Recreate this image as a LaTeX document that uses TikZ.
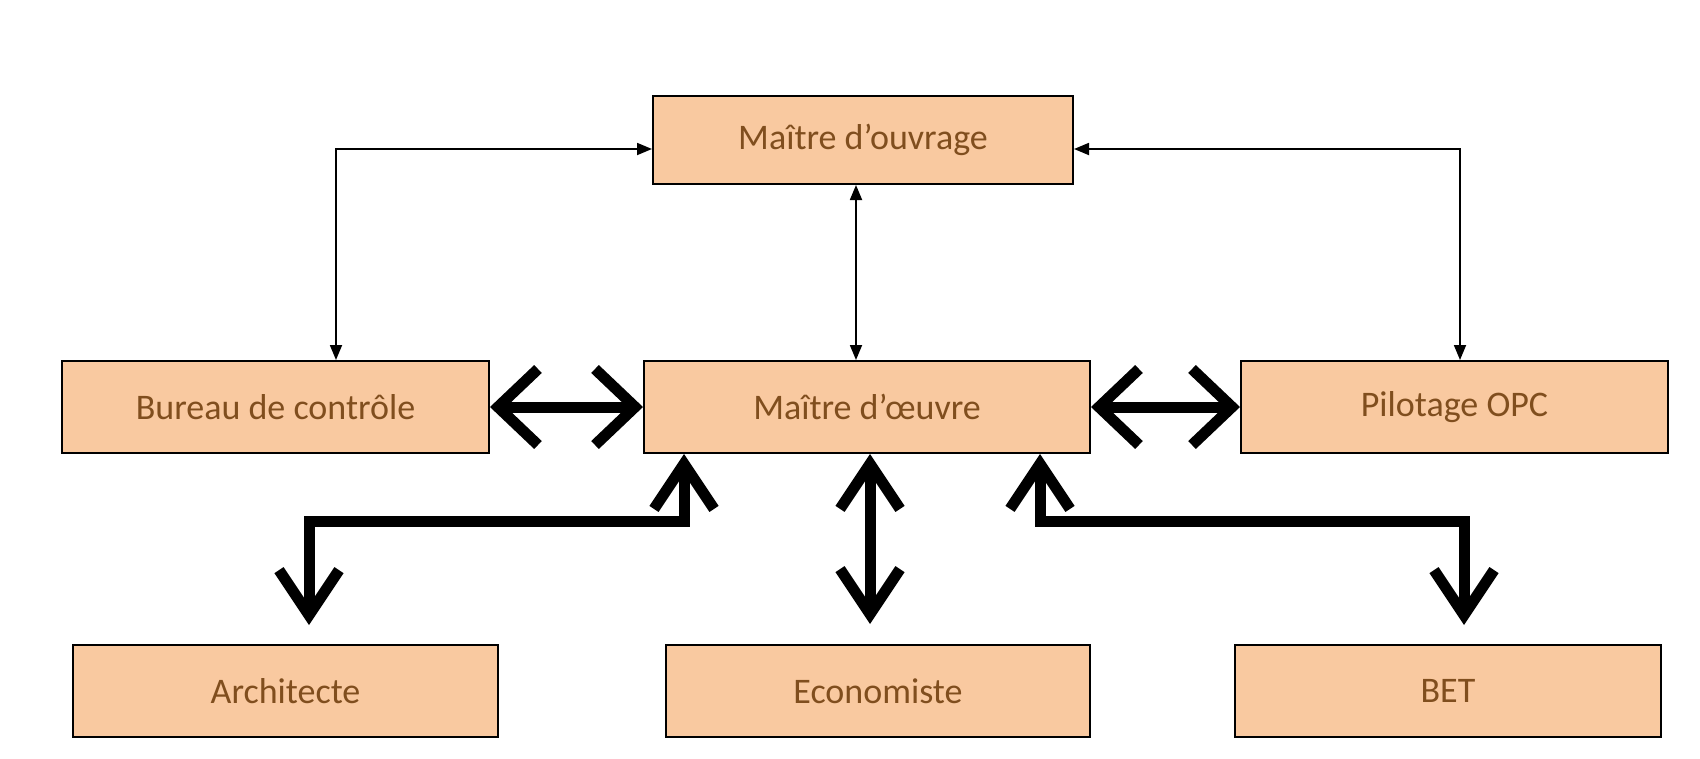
\documentclass[tikz,border=0pt]{standalone}
\usepackage{fontspec}
\setmainfont{Carlito}
\usetikzlibrary{arrows.meta}
\definecolor{boxfill}{RGB}{249,201,160}
\definecolor{boxtext}{RGB}{128,78,30}
\tikzset{
  box/.style={draw=black, line width=2pt, fill=boxfill, rectangle, inner sep=0pt,
    text=boxtext, font=\fontsize{36}{42}\selectfont},
  thinarr/.style={line width=1.8pt, {Triangle[length=15pt,width=12pt]}-{Triangle[length=15pt,width=12pt]}},
  thickh/.style={line width=11pt, line join=miter,
    {Straight Barb[length=40pt,width=76pt]}-{Straight Barb[length=40pt,width=76pt]}},
  thickv/.style={line width=11pt, line join=miter,
    {Straight Barb[length=45pt,width=60pt]}-{Straight Barb[length=45pt,width=60pt]}}
}
\begin{document}
\begin{tikzpicture}[x=1pt,y=-1pt]
\useasboundingbox (0,0) rectangle (1700,758);
\fill[white] (0,0) rectangle (1700,758);
% nodes
\node[box, minimum width=420pt, minimum height=88pt] (mo) at (863,140) {Maître d’ouvrage};
\node[box, minimum width=427pt, minimum height=92pt] (bc) at (275.5,407) {Bureau de contrôle};
\node[box, minimum width=446pt, minimum height=92pt] (moe) at (867,407) {Maître d’œuvre};
\node[box, minimum width=427pt, minimum height=92pt] (opc) at (1454.5,407) {Pilotage OPC};
\node[box, minimum width=425pt, minimum height=92pt] (arch) at (285.5,691) {Architecte};
\node[box, minimum width=424pt, minimum height=92pt] (eco) at (878,691) {Economiste};
\node[box, minimum width=426pt, minimum height=92pt] (bet) at (1448,691) {BET};
% thin connectors
\draw[thinarr] ([yshift=-9pt]mo.west) -| ([xshift=60.5pt]bc.north);
\draw[thinarr] ([yshift=-9pt]mo.east) -| ([xshift=5.5pt]opc.north);
\draw[thinarr] ([xshift=-7pt]mo.south) -- ([xshift=-7pt]mo.south |- moe.north);
% thick connectors
\draw[thickh] (bc.east) -- (moe.west);
\draw[thickh] (moe.east) -- (opc.west);
\draw[thickv] ([xshift=3pt]moe.south) -- ([xshift=-8pt,yshift=20pt]eco.north);
\draw[thickv] ([xshift=-183pt]moe.south) -- ++(0,67) -| ([xshift=23.5pt,yshift=19pt]arch.north);
\draw[thickv] ([xshift=173pt]moe.south) -- ++(0,67) -| ([xshift=16pt,yshift=19pt]bet.north);
\end{tikzpicture}
\end{document}
